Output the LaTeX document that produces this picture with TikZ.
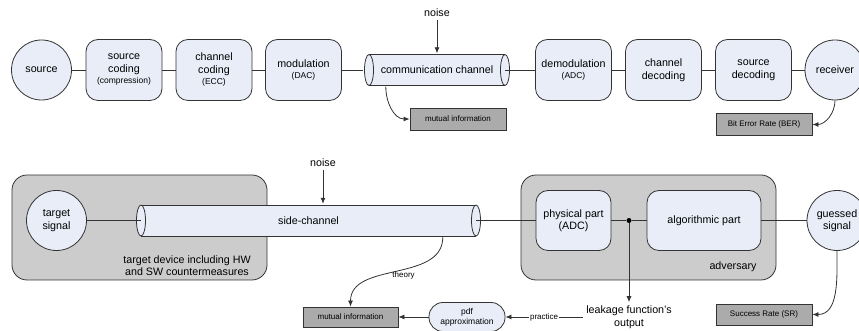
\documentclass[tikz,border=0pt]{standalone}
\usepackage{fontspec}
\setmainfont{Liberation Sans}
\usetikzlibrary{arrows.meta}
\newcommand\mainsz{\fontsize{10.7}{12.5}\selectfont}
\newcommand\subsz{\fontsize{8.5}{10}\selectfont}
\newcommand\labsz{\fontsize{8}{9.5}\selectfont}
\definecolor{blockfill}{HTML}{E8EDF8}
\definecolor{boxfill}{HTML}{CCCCCC}
\definecolor{resfill}{HTML}{ABABAB}
\definecolor{linegray}{HTML}{333333}
\tikzset{
  blk/.style={rectangle, rounded corners=12pt, draw=linegray, fill=blockfill, line width=0.8pt,
    minimum width=76pt, minimum height=61pt, align=center, inner sep=1pt, font=\mainsz},
  endpt/.style={circle, draw=linegray, fill=blockfill, line width=0.8pt,
    minimum size=60pt, align=center, inner sep=0pt, font=\mainsz},
  res/.style={rectangle, draw=linegray, fill=resfill, line width=0.8pt,
    minimum width=96pt, minimum height=22pt, inner sep=1pt, font=\labsz},
  cont/.style={rectangle, rounded corners=15pt, draw=linegray, fill=boxfill, line width=0.8pt},
  tube/.style={rectangle, inner sep=0pt, minimum height=33pt, font=\mainsz,
    path picture={
      \fill[blockfill] ([xshift=6pt,yshift=-15.5pt]path picture bounding box.west)
        rectangle ([xshift=-6pt,yshift=15.5pt]path picture bounding box.east);
      \draw[linegray, line width=0.8pt]
        ([xshift=6pt,yshift=15.5pt]path picture bounding box.west) -- ([xshift=-6pt,yshift=15.5pt]path picture bounding box.east)
        ([xshift=6pt,yshift=-15.5pt]path picture bounding box.west) -- ([xshift=-6pt,yshift=-15.5pt]path picture bounding box.east);
      \draw[linegray, fill=blockfill, line width=0.8pt]
        ([xshift=6pt]path picture bounding box.west) ellipse [x radius=4.5pt, y radius=15.5pt]
        ([xshift=-6pt]path picture bounding box.east) ellipse [x radius=4.5pt, y radius=15.5pt];
    }},
  conn/.style={draw=linegray, line width=0.8pt},
  arr/.style={conn, -{Latex[length=6pt,width=5pt]}},
}
\begin{document}
\begin{tikzpicture}[x=1pt, y=1pt]
    \useasboundingbox (0,0) rectangle (859,331);
    \node[endpt] (source) at (41.5,261) {source};
    \node[blk] (srccod) at (124,261) {source\\coding\\[-1pt]{\subsz (compression)}};
    \node[blk] (chcod) at (214,261) {channel\\coding\\[-1pt]{\subsz (ECC)}};
    \node[blk] (modul) at (303.5,261) {modulation\\[-1pt]{\subsz (DAC)}};
    \node[tube, minimum width=148pt] (comch) at (437,261) {communication channel};
    \node[font=\mainsz] (noiseA) at (437,318) {noise};
    \node[res] (mutinfA) at (458,212) {mutual information};
    \node[blk] (demod) at (573.5,261) {demodulation\\[-1pt]{\subsz (ADC)}};
    \node[blk] (chdec) at (663.5,261) {channel\\decoding};
    \node[blk] (srcdec) at (753.5,261) {source\\decoding};
    \node[endpt] (recv) at (835,261) {receiver};
    \node[res] (ber) at (764,206.5) {Bit Error Rate (BER)};
    \draw[conn] (source) -- (srccod) -- (chcod) -- (modul) -- (comch.west);
    \draw[conn] ([xshift=-6pt]comch.east) -- (demod) -- (chdec) -- (srcdec) -- (recv);
    \draw[arr] (noiseA) -- (comch.north);
    \draw[arr] ([xshift=23pt]comch.south west) to[out=-90, in=180] (mutinfA.west);
    \draw[arr] (recv.south) to[out=-90, in=0] (ber.east);

    \node[cont, minimum width=255pt, minimum height=105pt] (tdev) at (139.5,103.5) {};
    \node[cont, minimum width=255pt, minimum height=105pt] (advbox) at (648.5,103.5) {};
    \node[font=\mainsz, align=center] (tdevlbl) at (187,65.5) {target device including HW\\and SW countermeasures};
    \node[font=\mainsz] (advlbl) at (733,64) {adversary};
    \node[endpt] (tsig) at (56.5,110.5) {target\\signal};
    \node[tube, minimum width=347pt] (sidech) at (308.5,110.5) {side-channel};
    \node[font=\mainsz] (noiseB) at (323,168) {noise};
    \node[blk, minimum width=75pt, minimum height=60pt] (phys) at (573.5,110.5) {physical part\\(ADC)};
    \node[blk, minimum width=114pt, minimum height=60pt] (algo) at (704,110.5) {algorithmic part};
    \node[circle, fill=black, inner sep=0pt, minimum size=5pt] (tap) at (629,110.5) {};
    \node[endpt] (guess) at (837,110.5) {guessed\\signal};
    \node[font=\mainsz, align=center] (leak) at (629,14) {leakage function's\\output};
    \node[res, minimum width=95pt, minimum height=20pt] (mutinfB) at (350.5,14) {mutual information};
    \node[rectangle, rounded corners=14pt, draw=linegray, fill=blockfill, line width=0.8pt,
      minimum width=76pt, minimum height=29pt, align=center, inner sep=1pt, font=\subsz] (pdfapx) at (467,14) {pdf\\approximation};
    \node[res, minimum height=21pt] (sr) at (764,16.5) {Success Rate (SR)};
    \draw[conn] (tsig) -- ([xshift=6pt]sidech.west);
    \draw[conn] ([xshift=-6pt]sidech.east) -- (phys) -- (tap) -- (algo) -- (guess);
    \draw[arr] (noiseB) -- (noiseB |- sidech.north);
    \draw[arr] (tap) -- (leak.north);
    \draw[arr] ([xshift=308pt]sidech.south west) to[out=-90, in=90]
      node[pos=0.45, anchor=north, inner sep=1pt, font=\labsz] {theory} (mutinfB.north);
    \draw[arr] (leak.west) -- node[fill=white, inner sep=1pt, font=\labsz] {practice} (pdfapx.east);
    \draw[arr] (pdfapx.west) -- (mutinfB.east);
    \draw[arr] (guess.south) to[out=-90, in=0] (sr.east);
  \end{tikzpicture}
\end{document}
